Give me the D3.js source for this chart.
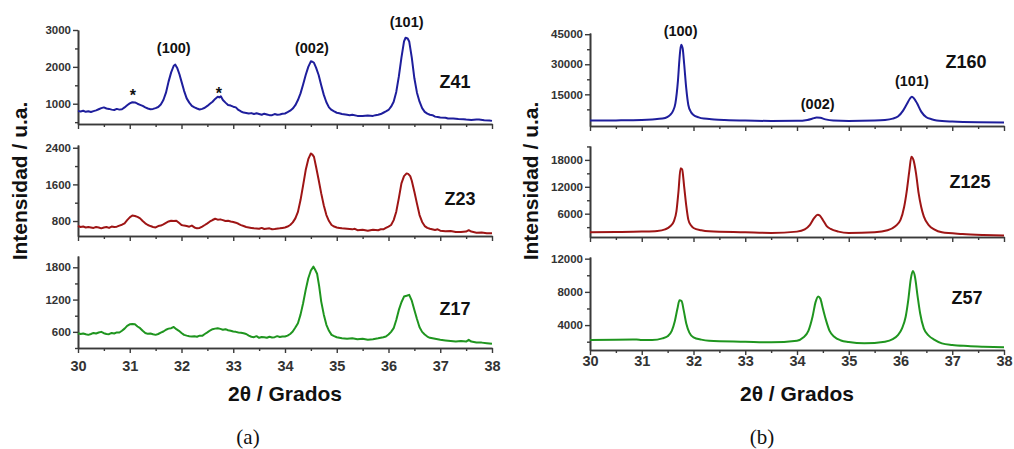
<!DOCTYPE html>
<html>
<head>
<meta charset="utf-8">
<script src="https://cdnjs.cloudflare.com/ajax/libs/d3/7.8.5/d3.min.js"></script>
<style>
  html, body { margin: 0; padding: 0; background: #fff; }
  svg { display: block; }
</style>
</head>
<body>
<svg id="chart" width="1014" height="449"></svg>
<script>
// ---------------- DATA ----------------
const xTicks = [30, 31, 32, 33, 34, 35, 36, 37, 38];

// Panel (a)
const z41X = [30.00,30.05,30.10,30.15,30.20,30.25,30.30,30.35,30.40,30.45,30.50,30.55,30.60,30.65,30.70,30.75,30.80,30.85,30.90,30.95,31.00,31.05,31.10,31.15,31.20,31.25,31.30,31.35,31.40,31.45,31.50,31.55,31.60,31.65,31.70,31.75,31.80,31.85,31.88,31.92,31.96,32.00,32.05,32.10,32.15,32.20,32.25,32.30,32.35,32.40,32.45,32.50,32.55,32.60,32.65,32.70,32.73,32.76,32.80,32.85,32.90,32.95,33.00,33.05,33.10,33.15,33.20,33.25,33.30,33.35,33.40,33.45,33.50,33.55,33.60,33.65,33.70,33.75,33.80,33.85,33.90,33.95,34.00,34.05,34.10,34.15,34.20,34.25,34.30,34.35,34.40,34.45,34.50,34.53,34.56,34.60,34.65,34.70,34.75,34.80,34.85,34.90,34.95,35.00,35.05,35.10,35.20,35.25,35.30,35.40,35.50,35.60,35.70,35.75,35.80,35.85,35.90,35.95,36.00,36.05,36.10,36.15,36.20,36.25,36.30,36.33,36.37,36.40,36.45,36.50,36.55,36.60,36.65,36.70,36.75,36.80,36.85,36.90,36.95,37.00,37.10,37.15,37.25,37.35,37.45,37.50,37.60,37.70,37.75,37.85,37.95,38.00];
const z41Y = [800,790,810,780,795,775,800,820,850,880,900,870,860,840,830,860,840,850,900,960,1010,1040,1035,1000,970,940,900,870,850,860,880,910,980,1100,1300,1600,1850,2030,2060,1960,1800,1600,1350,1145,1030,940,900,870,845,860,890,940,1000,1055,1130,1190,1170,1200,1100,1030,965,950,920,900,830,790,760,750,735,745,720,740,720,700,730,710,690,690,720,700,710,730,735,770,810,870,960,1100,1280,1520,1780,2000,2150,2140,2110,1980,1780,1500,1240,1040,900,830,790,755,740,720,700,690,700,670,665,680,670,690,700,720,755,790,830,920,1055,1320,1740,2250,2690,2790,2770,2690,2250,1690,1300,1055,880,780,730,700,690,650,640,625,620,600,600,585,580,570,560,575,570,550,545,535];

const z23X = [30.00,30.05,30.10,30.15,30.20,30.25,30.30,30.35,30.40,30.45,30.50,30.55,30.60,30.65,30.70,30.75,30.80,30.85,30.90,30.95,31.00,31.05,31.10,31.15,31.20,31.25,31.30,31.35,31.40,31.45,31.50,31.55,31.60,31.65,31.70,31.75,31.80,31.85,31.90,31.95,32.00,32.05,32.10,32.15,32.20,32.25,32.30,32.35,32.40,32.45,32.50,32.55,32.60,32.65,32.70,32.75,32.80,32.85,32.90,32.95,33.00,33.05,33.10,33.15,33.20,33.25,33.30,33.35,33.40,33.50,33.55,33.60,33.70,33.75,33.80,33.90,33.95,34.00,34.05,34.10,34.15,34.20,34.25,34.30,34.35,34.40,34.45,34.50,34.53,34.56,34.60,34.65,34.70,34.75,34.80,34.85,34.90,34.95,35.00,35.05,35.10,35.20,35.30,35.35,35.40,35.50,35.60,35.65,35.70,35.80,35.85,35.90,35.95,36.00,36.05,36.10,36.15,36.20,36.25,36.30,36.35,36.38,36.42,36.45,36.50,36.55,36.60,36.65,36.70,36.75,36.80,36.90,36.95,37.00,37.10,37.20,37.30,37.40,37.50,37.55,37.60,37.70,37.80,37.90,38.00];
const z23Y = [690,670,680,660,670,660,650,670,660,640,660,670,650,680,670,676,700,720,750,820,880,920,910,890,858,800,750,713,690,670,660,690,700,727,760,790,807,800,807,760,713,700,690,676,700,660,640,650,680,713,750,790,822,850,830,836,820,800,807,790,780,764,740,710,690,670,660,650,640,630,650,625,640,620,625,640,650,660,680,713,770,858,1000,1258,1580,1912,2150,2276,2250,2200,1985,1700,1403,1140,931,800,713,680,660,650,640,630,618,630,600,610,589,600,610,600,620,618,650,680,713,820,1004,1300,1622,1780,1840,1830,1780,1680,1440,1180,931,780,690,650,630,604,620,590,575,580,560,560,570,600,570,545,550,535,531];

const z17X = [30.00,30.05,30.10,30.15,30.20,30.25,30.30,30.35,30.40,30.45,30.50,30.55,30.60,30.65,30.70,30.75,30.80,30.85,30.90,30.95,31.00,31.05,31.10,31.15,31.20,31.25,31.30,31.35,31.40,31.45,31.50,31.55,31.60,31.65,31.70,31.75,31.80,31.85,31.90,31.95,32.00,32.05,32.10,32.15,32.20,32.25,32.30,32.35,32.40,32.45,32.50,32.55,32.60,32.65,32.70,32.75,32.80,32.85,32.90,32.95,33.00,33.05,33.10,33.15,33.20,33.25,33.30,33.35,33.40,33.45,33.50,33.55,33.60,33.65,33.70,33.75,33.80,33.85,33.90,33.95,34.00,34.05,34.10,34.15,34.20,34.25,34.30,34.35,34.40,34.45,34.50,34.55,34.58,34.62,34.66,34.70,34.75,34.80,34.85,34.90,34.95,35.00,35.10,35.20,35.30,35.40,35.50,35.60,35.70,35.80,35.90,35.95,36.00,36.05,36.10,36.15,36.20,36.25,36.30,36.35,36.40,36.45,36.50,36.55,36.60,36.65,36.70,36.75,36.80,36.90,37.00,37.10,37.20,37.30,37.40,37.50,37.55,37.60,37.70,37.80,37.90,38.00];
const z17Y = [575,560,570,555,544,560,580,570,588,600,575,560,557,580,570,590,588,620,660,711,740,748,740,700,668,620,580,563,570,555,544,560,585,606,640,660,668,690,650,620,580,544,530,520,513,520,510,530,526,560,590,625,650,660,668,655,640,650,630,620,606,600,590,585,575,560,530,510,501,520,490,505,501,490,510,495,501,520,505,515,513,530,560,606,680,761,920,1132,1380,1596,1740,1812,1760,1680,1450,1163,920,730,620,544,520,500,482,470,480,464,470,455,464,480,500,513,550,600,668,820,1008,1150,1256,1270,1287,1180,1008,840,687,600,550,513,490,470,452,440,430,421,430,420,452,420,402,400,390,377];

// Panel (b)
const z160X = [30.0,30.5,31.0,31.2,31.4,31.5,31.55,31.6,31.65,31.7,31.73,31.76,31.79,31.82,31.86,31.9,31.95,32.0,32.1,32.2,32.4,32.6,33.0,33.5,34.0,34.2,34.3,34.38,34.45,34.55,34.7,35.0,35.5,35.7,35.85,35.95,36.05,36.12,36.18,36.22,36.26,36.32,36.4,36.5,36.6,36.7,37.0,37.5,38.0];
const z160Y = [1900,2000,2240,2500,2900,3800,4730,6500,10500,22000,33000,39800,38000,30000,18000,9700,6200,4730,3500,2900,2500,2240,1910,1740,1800,2240,2900,3500,3300,2500,1910,1740,1910,2200,2900,3900,6880,10000,12800,13800,13000,10500,6380,3570,2600,2000,1410,1080,1000];

const z125X = [30.0,30.5,31.0,31.3,31.45,31.55,31.62,31.67,31.71,31.75,31.78,31.82,31.86,31.9,31.95,32.0,32.15,32.3,33.0,33.5,34.0,34.15,34.25,34.33,34.4,34.44,34.5,34.57,34.65,34.8,35.0,35.5,35.75,35.9,36.0,36.07,36.12,36.17,36.21,36.25,36.3,36.35,36.4,36.45,36.55,36.65,36.8,37.2,37.6,38.0];
const z125Y = [1850,1900,2000,2150,2500,3190,4300,6500,11000,16150,15900,12000,7800,4670,3400,2810,2300,2070,1850,1700,2000,2500,3500,5000,5780,5600,4600,3300,2600,2000,1700,1850,2300,3200,4600,7500,11000,15500,18700,18000,15000,10590,7500,5410,3400,2500,1850,1480,1260,1110];

const z57X = [30.0,30.5,30.9,31.0,31.2,31.4,31.5,31.58,31.64,31.69,31.73,31.77,31.81,31.86,31.92,32.0,32.15,32.3,33.0,33.5,34.0,34.12,34.22,34.3,34.36,34.41,34.45,34.5,34.56,34.63,34.72,34.85,35.0,35.3,35.7,35.85,35.95,36.03,36.1,36.15,36.2,36.24,36.28,36.33,36.38,36.45,36.55,36.65,36.8,37.0,37.3,37.6,38.0];
const z57Y = [2200,2240,2250,2200,2200,2400,2650,3300,4500,6000,7000,6900,5800,4200,3100,2520,2250,2120,2000,1920,2120,2500,3300,5000,6800,7450,7200,6000,4600,3300,2600,2150,1960,1800,2000,2300,2800,3600,5000,7000,9600,10500,9800,7500,5400,3600,2700,2250,1800,1600,1480,1400,1320];

// y tick labels per subplot
const ticksZ41 = [1000, 2000, 3000];
const ticksZ23 = [800, 1600, 2400];
const ticksZ17 = [600, 1200, 1800];
const ticksZ160 = [15000, 30000, 45000];
const ticksZ125 = [6000, 12000, 18000];
const ticksZ57 = [4000, 8000, 12000];

const sampleNames = ["Z41", "Z23", "Z17", "Z160", "Z125", "Z57"];
const peakLabels = ["(100)", "(002)", "(101)"];
const starLabel = "*";

// ---------------- DRAW ----------------
const svg = d3.select("#chart");
const FONT = "'Liberation Sans', Arial, sans-serif";
const AXIS = "#3a3a3a";
const BLUE = "#1e1e9c", RED = "#9e1515", GREEN = "#1f951f";

function subplot(cfg) {
  const x = d3.scaleLinear().domain([30, 38]).range([cfg.x0, cfg.x1]);
  const y = d3.scaleLinear().domain(cfg.yDom).range([cfg.yBot, cfg.yTop]);
  const g = svg.append("g");

  // x axis
  const xa = g.append("g").attr("transform", `translate(0,${cfg.yBot})`);
  xa.call(d3.axisBottom(x).tickValues(xTicks).tickSize(5).tickSizeOuter(0)
      .tickFormat(cfg.xLabels ? d3.format("d") : ""));
  xa.append("g").call(d3.axisBottom(x).tickValues(d3.range(30.5, 38, 1)).tickSize(3).tickSizeOuter(0).tickFormat(""));
  // y axis
  const ya = g.append("g").attr("transform", `translate(${cfg.x0},0)`);
  ya.call(d3.axisLeft(y).tickValues(cfg.ticks).tickSize(5).tickSizeOuter(0).tickFormat(d3.format("d")));
  const step = cfg.ticks[1] - cfg.ticks[0];
  const minors = [];
  for (let v = cfg.ticks[0] - step / 2; v <= cfg.yDom[1]; v += step) {
    if (v >= cfg.yDom[0] && !cfg.ticks.includes(v)) minors.push(v);
  }
  ya.append("g").call(d3.axisLeft(y).tickValues(minors).tickSize(3).tickSizeOuter(0).tickFormat(""));

  g.selectAll(".domain").attr("stroke", AXIS).attr("stroke-width", 1.6);
  g.selectAll(".tick line").attr("stroke", AXIS).attr("stroke-width", 1.4);
  ya.selectAll(".tick text").attr("font-family", FONT).attr("font-weight", "bold")
    .attr("font-size", "11.5px").attr("fill", "#333").attr("x", -7);
  xa.selectAll(".tick text").attr("font-family", FONT).attr("font-weight", "bold")
    .attr("font-size", "14.5px").attr("fill", "#333").attr("dy", cfg.xLabelDy || "0.95em");

  // line
  const pts = cfg.xs.map((d, i) => [d, cfg.ys[i]]);
  g.append("path").datum(pts)
    .attr("fill", "none").attr("stroke", cfg.color).attr("stroke-width", cfg.lw || 2)
    .attr("stroke-linejoin", "round")
    .attr("d", d3.line().x(d => x(d[0])).y(d => y(d[1])).curve(cfg.curve || d3.curveLinear));

  // sample name
  g.append("text").attr("x", cfg.nameX).attr("y", cfg.nameY)
    .attr("text-anchor", "middle").attr("font-family", FONT).attr("font-weight", "bold")
    .attr("font-size", "18px").attr("fill", "#111").text(cfg.name);
  return { x, y, g };
}

function label(t, px, py, size) {
  svg.append("text").attr("x", px).attr("y", py).attr("text-anchor", "middle")
    .attr("font-family", FONT).attr("font-weight", "bold").attr("font-size", size || "14.5px")
    .attr("fill", "#111").text(t);
}

// Panel (a)
const a1 = subplot({ x0: 78, x1: 492, yBot: 124, yTop: 30, yDom: [450, 3000], ticks: ticksZ41,
  xs: z41X, ys: z41Y, color: BLUE, name: sampleNames[0], nameX: 455, nameY: 88 });
const a2 = subplot({ x0: 78, x1: 492, yBot: 236, yTop: 145, yDom: [473, 2460], ticks: ticksZ23,
  xs: z23X, ys: z23Y, color: RED, name: sampleNames[1], nameX: 460, nameY: 205 });
const a3 = subplot({ x0: 78, x1: 492, yBot: 348, yTop: 256, yDom: [300, 2010], ticks: ticksZ17,
  xs: z17X, ys: z17Y, color: GREEN, name: sampleNames[2], nameX: 455, nameY: 315, xLabels: true, xLabelDy: "1.0em" });

// Panel (b)
const b1 = subplot({ x0: 590, x1: 1004, yBot: 126, yTop: 33, yDom: [-800, 45600], ticks: ticksZ160,
  xs: z160X, ys: z160Y, color: BLUE, name: sampleNames[3], nameX: 966, nameY: 68, curve: d3.curveMonotoneX });
const b2 = subplot({ x0: 590, x1: 1004, yBot: 237, yTop: 146, yDom: [800, 21100], ticks: ticksZ125,
  xs: z125X, ys: z125Y, color: RED, name: sampleNames[4], nameX: 970, nameY: 188, curve: d3.curveMonotoneX });
const b3 = subplot({ x0: 590, x1: 1004, yBot: 350, yTop: 257, yDom: [1000, 12200], ticks: ticksZ57,
  xs: z57X, ys: z57Y, color: GREEN, name: sampleNames[5], nameX: 967, nameY: 304, xLabels: true, xLabelDy: "0.55em", curve: d3.curveMonotoneX });

// peak labels
label(peakLabels[0], a1.x(31.85), 53);
label(peakLabels[1], a1.x(34.52), 53);
label(peakLabels[2], a1.x(36.35), 27);
label(starLabel, a1.x(31.06), 101, "16px");
label(starLabel, a1.x(32.72), 99, "16px");
label(peakLabels[0], b1.x(31.75), 36);
label(peakLabels[1], b1.x(34.4), 109);
label(peakLabels[2], b1.x(36.22), 86);

// axis titles
function axisTitles(cx, yLabX) {
  svg.append("text").attr("x", cx).attr("y", 401).attr("text-anchor", "middle")
    .attr("font-family", FONT).attr("font-weight", "bold").attr("font-size", "21px").attr("fill", "#111")
    .text("2θ / Grados");
  svg.append("text").attr("transform", `translate(${yLabX},181) rotate(-90)`).attr("text-anchor", "middle")
    .attr("font-family", FONT).attr("font-weight", "bold").attr("font-size", "21px").attr("fill", "#111")
    .text("Intensidad / u.a.");
}
axisTitles(285, 27);
axisTitles(797, 538);

// captions
svg.append("text").attr("x", 248).attr("y", 444).attr("text-anchor", "middle")
  .attr("font-family", "'Liberation Serif', 'DejaVu Serif', serif").attr("font-size", "21px").attr("fill", "#111").text("(a)");
svg.append("text").attr("x", 762).attr("y", 444).attr("text-anchor", "middle")
  .attr("font-family", "'Liberation Serif', 'DejaVu Serif', serif").attr("font-size", "21px").attr("fill", "#111").text("(b)");
</script>
</body>
</html>
